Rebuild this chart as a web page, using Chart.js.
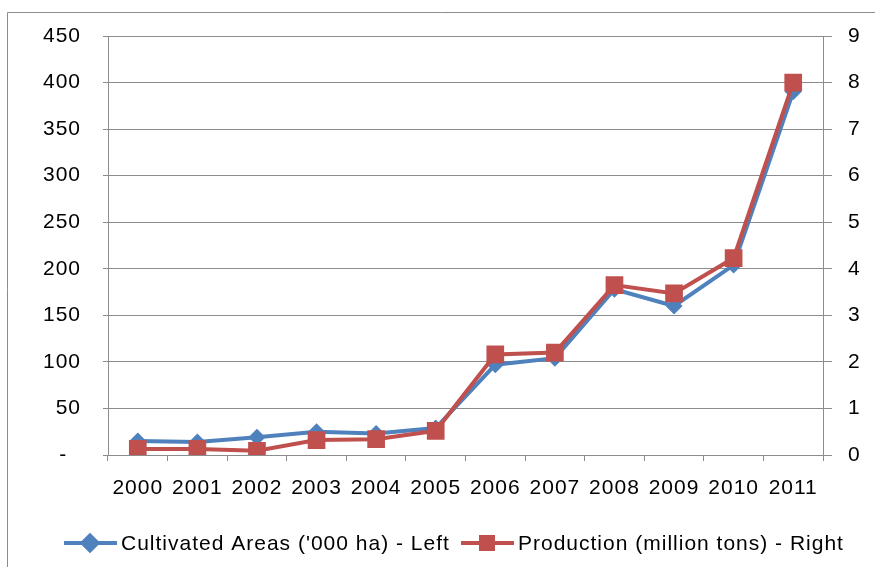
<!DOCTYPE html>
<html>
<head>
<meta charset="utf-8">
<script src="https://cdn.jsdelivr.net/npm/chart.js@4/dist/chart.umd.min.js"></script>
<style>
html,body{margin:0;padding:0;background:#fff;}
#wrap{position:relative;width:875px;height:567px;}
</style>
</head>
<body>
<div id="wrap"><canvas id="c" width="875" height="567"></canvas></div>
<script>
const years = ['2000','2001','2002','2003','2004','2005','2006','2007','2008','2009','2010','2011'];
const areaLabel = "Cultivated Areas ('000 ha) - Left";
const prodLabel = "Production (million tons) - Right";
const areas = [15, 14, 19, 25, 23, 29, 97, 104, 178, 160, 204, 390];
const production = [0.13, 0.13, 0.09, 0.32, 0.34, 0.52, 2.16, 2.2, 3.65, 3.47, 4.23, 8.0];
const leftTicks = [0, 50, 100, 150, 200, 250, 300, 350, 400, 450];
const rightTicks = [0, 1, 2, 3, 4, 5, 6, 7, 8, 9];

const BLUE = '#4F81BD', RED = '#C0504D', GRID = '#8c8c8c';
const FONT = '"Liberation Sans", Arial, sans-serif';

const framePlugin = {
  id: 'frame',
  beforeDraw(chart) {
    const ctx = chart.ctx;
    ctx.letterSpacing = '1px';
    ctx.save();
    ctx.strokeStyle = '#8c8c8c';
    ctx.lineWidth = 1;
    ctx.beginPath();
    ctx.moveTo(7.5, 567);
    ctx.lineTo(7.5, 12.5);
    ctx.lineTo(875, 12.5);
    ctx.stroke();
    ctx.restore();
  }
};

const legendPlugin = {
  id: 'customLegend',
  afterDraw(chart) {
    const ctx = chart.ctx;
    const y = 543;
    ctx.save();
    ctx.letterSpacing = '1px';
    ctx.font = '21px ' + FONT;
    ctx.textBaseline = 'middle';
    ctx.fillStyle = '#000';
    // item 1
    ctx.strokeStyle = BLUE; ctx.lineWidth = 4;
    ctx.beginPath(); ctx.moveTo(64, y); ctx.lineTo(117, y); ctx.stroke();
    Chart.helpers.drawPoint(ctx, {pointStyle: 'rectRot', radius: 7.5, rotation: 0, borderWidth: 1}, 90, y);
    ctx.fillStyle = BLUE; ctx.fill();
    ctx.fillStyle = '#000';
    ctx.fillText(areaLabel, 121, y + 1);
    // item 2
    ctx.strokeStyle = RED; ctx.lineWidth = 4;
    ctx.beginPath(); ctx.moveTo(461, y); ctx.lineTo(514, y); ctx.stroke();
    ctx.fillStyle = RED;
    ctx.fillRect(487 - 8, y - 8, 16, 16);
    ctx.fillStyle = '#000';
    ctx.fillText(prodLabel, 518, y + 1);
    ctx.restore();
  }
};

new Chart(document.getElementById('c'), {
  type: 'line',
  data: {
    labels: years,
    datasets: [
      {
        label: areaLabel,
        data: areas,
        yAxisID: 'yL',
        borderColor: BLUE,
        backgroundColor: BLUE,
        borderWidth: 4,
        pointStyle: 'rectRot',
        pointRadius: 8.5,
        pointBorderWidth: 0,
        tension: 0,
        order: 2
      },
      {
        label: prodLabel,
        data: production,
        yAxisID: 'yR',
        borderColor: RED,
        backgroundColor: RED,
        borderWidth: 4,
        pointStyle: 'rect',
        pointRadius: 12.5,
        pointBorderWidth: 0,
        tension: 0,
        order: 1
      }
    ]
  },
  options: {
    responsive: false,
    animation: false,
    devicePixelRatio: 1,
    layout: { padding: { left: 0, right: 0, top: 36, bottom: 0 } },
    plugins: { legend: { display: false }, tooltip: { enabled: false } },
    scales: {
      x: {
        type: 'category',
        offset: true,
        grid: { offset: true, drawOnChartArea: false, color: GRID, tickLength: 6, tickColor: GRID },
        border: { color: GRID, width: 1 },
        ticks: { color: '#000', font: { family: FONT, size: 21 }, padding: 15, maxRotation: 0, autoSkip: false },
        afterFit(s) { s.height = 112; }
      },
      yL: {
        position: 'left',
        min: 0, max: 450,
        afterBuildTicks(s) { s.ticks = leftTicks.map(v => ({ value: v })); },
        grid: { color: GRID, tickLength: 5, tickColor: GRID },
        border: { color: GRID, width: 1 },
        ticks: {
          color: '#000', font: { family: FONT, size: 21 }, padding: 22,
          callback: v => v === 0 ? '-  ' : String(v)
        },
        afterFit(s) { s.width = 108; }
      },
      yR: {
        position: 'right',
        min: 0, max: 9,
        afterBuildTicks(s) { s.ticks = rightTicks.map(v => ({ value: v })); },
        grid: { drawOnChartArea: false, color: GRID, tickLength: 9, tickColor: GRID },
        border: { color: GRID, width: 1 },
        ticks: { color: '#000', font: { family: FONT, size: 21 }, padding: 16 },
        afterFit(s) { s.width = 52; }
      }
    }
  },
  plugins: [framePlugin, legendPlugin]
});
</script>
</body>
</html>
